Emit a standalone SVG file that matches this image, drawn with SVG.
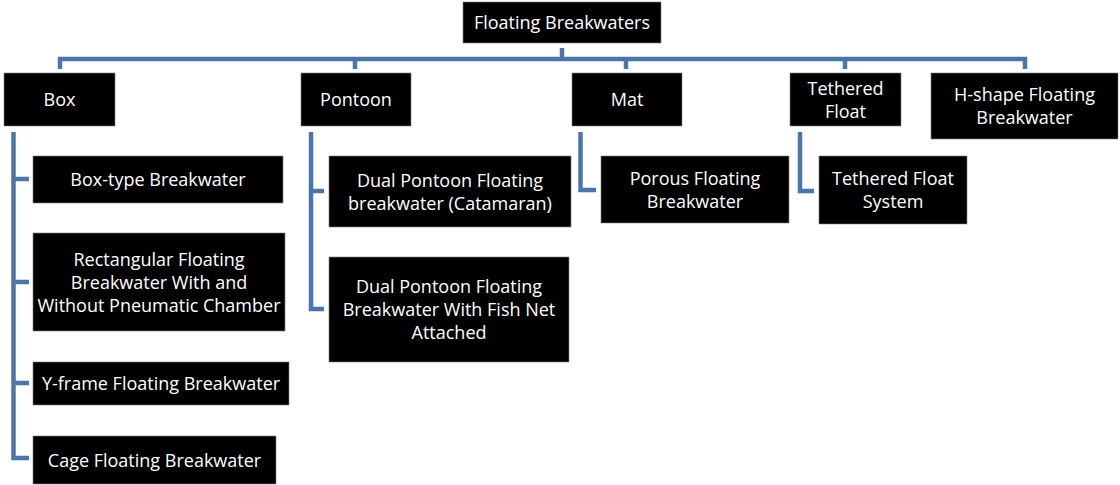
<svg xmlns="http://www.w3.org/2000/svg" width="1120" height="485" viewBox="0 0 1120 485">
<style>
.n{fill:#000;stroke:#7f7f7f;stroke-width:0.6}
.t{fill:#fff;font-family:"Open Sans","Liberation Sans",sans-serif;font-size:18px;text-anchor:middle}
.c{fill:none;stroke:#4a76ad;stroke-width:4.5;stroke-linejoin:miter;stroke-linecap:butt}
</style>
<rect width="1120" height="485" fill="#fff"/>
<g id="connectors">
<path class="c" d="M562,48 V59"/>
<path class="c" d="M60,69 V59 H1025 V69"/>
<path class="c" d="M355,59 V69"/>
<path class="c" d="M626,59 V69"/>
<path class="c" d="M845,59 V69"/>
<path class="c" d="M29,179 H13.5 V132 M13.5,179 V458 H29 M13.5,282 H29 M13.5,383 H29"/>
<path class="c" d="M324,191 H311 V132 M311,191 V309 H324"/>
<path class="c" d="M596,190 H580.5 V132"/>
<path class="c" d="M814,191 H800 V132"/>
</g>
<g id="root"><rect class="n" x="463" y="2" width="198" height="41"/><text class="t" x="562" y="29">Floating Breakwaters</text></g>
<g id="box"><rect class="n" x="4" y="73" width="111" height="53"/><text class="t" x="59.5" y="106">Box</text></g>
<g id="pontoon"><rect class="n" x="301" y="73" width="110" height="53"/><text class="t" x="356" y="106">Pontoon</text></g>
<g id="mat"><rect class="n" x="572" y="73" width="110" height="53"/><text class="t" x="627" y="106">Mat</text></g>
<g id="tethered"><rect class="n" x="790" y="73" width="111" height="53"/><text class="t" x="845.5" y="94.5">Tethered</text><text class="t" x="845.5" y="117.5">Float</text></g>
<g id="hshape"><rect class="n" x="931" y="73" width="187" height="66"/><text class="t" x="1024.5" y="100.5">H-shape Floating</text><text class="t" x="1024.5" y="123.5">Breakwater</text></g>
<g id="boxtype"><rect class="n" x="33" y="156" width="250" height="47"/><text class="t" x="158" y="186">Box-type Breakwater</text></g>
<g id="rect"><rect class="n" x="33" y="233" width="252" height="98"/><text class="t" x="159" y="265.5">Rectangular Floating</text><text class="t" x="159" y="288.5">Breakwater With and</text><text class="t" x="159" y="311.5">Without Pneumatic Chamber</text></g>
<g id="yframe"><rect class="n" x="33" y="362" width="256" height="43"/><text class="t" x="161" y="390">Y-frame Floating Breakwater</text></g>
<g id="cage"><rect class="n" x="33" y="436" width="243" height="48"/><text class="t" x="154.5" y="466.5">Cage Floating Breakwater</text></g>
<g id="dual1"><rect class="n" x="329" y="156" width="242" height="71"/><text class="t" x="450" y="187">Dual Pontoon Floating</text><text class="t" x="450" y="210">breakwater (Catamaran)</text></g>
<g id="dual2"><rect class="n" x="329" y="257" width="240" height="105"/><text class="t" x="449" y="293">Dual Pontoon Floating</text><text class="t" x="449" y="316">Breakwater With Fish Net</text><text class="t" x="449" y="339">Attached</text></g>
<g id="porous"><rect class="n" x="601" y="156" width="188" height="67"/><text class="t" x="695" y="184.5">Porous Floating</text><text class="t" x="695" y="207.5">Breakwater</text></g>
<g id="tfs"><rect class="n" x="819" y="156" width="148" height="68"/><text class="t" x="893" y="185">Tethered Float</text><text class="t" x="893" y="208">System</text></g>
</svg>
